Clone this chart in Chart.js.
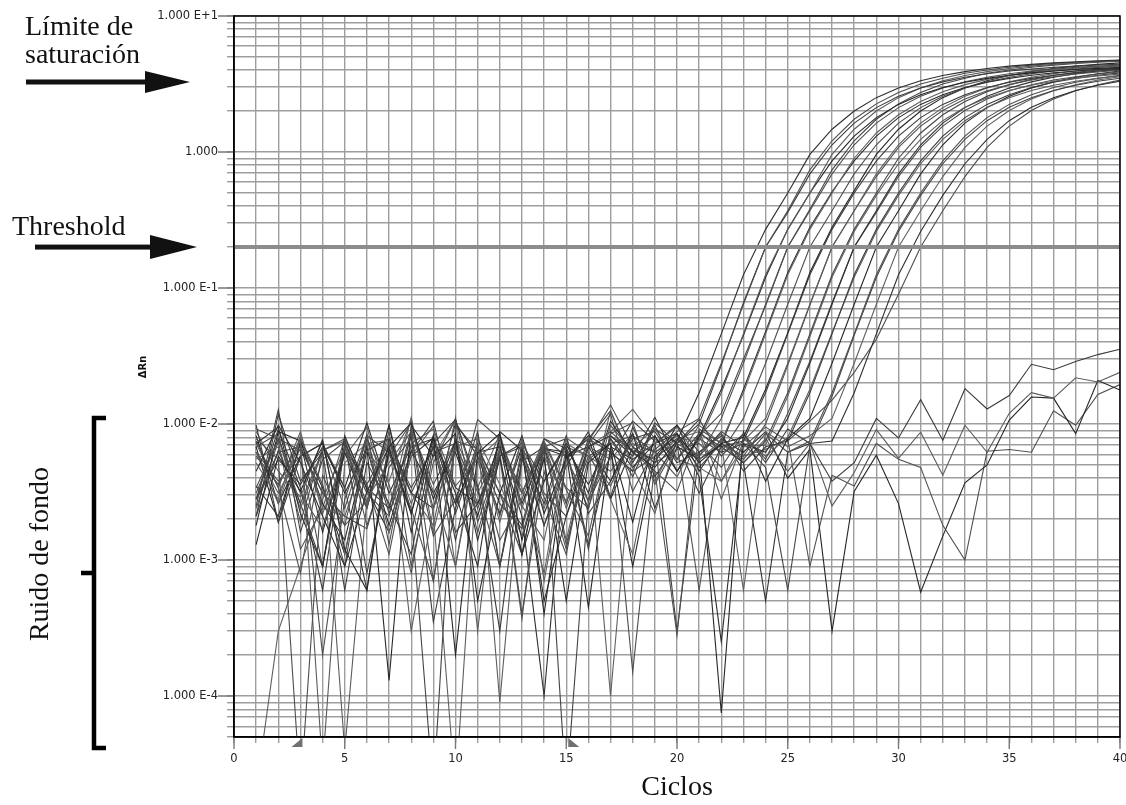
<!DOCTYPE html>
<html lang="es">
<head>
<meta charset="utf-8">
<title>Curvas de amplificación</title>
<script src="https://cdn.jsdelivr.net/npm/chart.js@4.4.1/dist/chart.umd.min.js"></script>
<style>
  html, body { margin: 0; padding: 0; background: #fff; }
  #grafico { display: block; }
</style>
</head>
<body>
<canvas id="grafico" width="1126" height="805"></canvas>
<script>
// Ciclos de PCR (eje X)
const ciclos = [1,2,3,4,5,6,7,8,9,10,11,12,13,14,15,16,17,18,19,20,
                21,22,23,24,25,26,27,28,29,30,31,32,33,34,35,36,37,38,39,40];
const xEtiquetas = [0, 5, 10, 15, 20, 25, 30, 35, 40];

// Eje Y logarítmico: décadas con etiqueta
const yDecadas = [10, 1, 0.1, 0.01, 0.001, 0.0001];
const yEtiquetas = ['1.000 E+1', '1.000', '1.000 E-1', '1.000 E-2', '1.000 E-3', '1.000 E-4'];

const umbral = 0.2;            // línea de threshold
const marcasBaseline = [3, 15]; // inicio y fin de la línea base

// ΔRn por pozo (valores muy pequeños = caen fuera del gráfico)
const pozo01 = [.0045,.0098,.0052,.0021,.0009,.0032,.0068,.0102,.0028,.0075,.0014,.0056,.0011,.0038,.0072,.0031,.0105,.0062,.0048,
  .0075,.017,.046,.125,.27,.5,.96,1.47,2.0,2.51,2.96,3.34,3.65,3.9,4.11,4.28,4.41,4.52,4.61,4.68,4.75];
const pozo02 = [.0078,.0055,.00002,.0042,.0018,.0085,.0013,.0092,.0007,.0068,.0024,.0062,.0004,.0045,.0012,.0071,.0118,.0032,.0065,.0088,
  .011,.028,.076,.2,.37,.74,1.21,1.74,2.26,2.74,3.16,3.49,3.79,4.01,4.2,4.35,4.47,4.57,4.65,4.72];
const pozo03 = [.0021,.0118,.0038,.0062,.0006,.0052,.0026,.0011,.0072,.0108,.0035,.0003,.0058,.0018,.0049,.0088,.0029,.0095,.0041,.0072,
  .01,.027,.078,.2,.36,.69,1.13,1.63,2.12,2.57,2.96,3.28,3.55,3.76,3.94,4.07,4.19,4.28,4.36,4.42];
const pozo04 = [.0062,.0026,.0078,.00003,.0052,.0072,.0016,.0058,.0097,.0009,.0068,.0019,.0078,.0007,.0055,.0027,.0125,.0048,.0022,.0078,
  .0075,.017,.046,.125,.27,.5,.96,1.47,2.0,2.51,2.96,3.34,3.65,3.9,4.11,4.28,4.41,4.52,4.61,4.68];
const pozo05 = [.0013,.0058,.0032,.0075,.0012,.0006,.0066,.0022,.0082,.0002,.0061,.0085,.0014,.0056,.0005,.0052,.0072,.0019,.0082,.0045,
  .008,.018,.045,.12,.27,.5,.86,1.31,1.79,2.24,2.64,2.98,3.26,3.48,3.67,3.82,3.94,4.04,4.12,4.18];
const pozo06 = [.0092,.0078,.0031,.0017,.0068,.0024,.0088,.0009,.0052,.0108,.0019,.0058,.00037,.0072,.0033,.0015,.0085,.0102,.0036,.0072,.0058,
  .011,.028,.076,.2,.37,.69,1.13,1.63,2.12,2.57,2.96,3.28,3.55,3.76,3.94,4.07,4.19,4.28,4.36];
const pozo07 = [.0025,.0128,.0016,.0055,.0074,.0008,.0048,.0079,.0015,.0028,.0088,.0009,.0053,.0068,.00002,.0028,.0078,.0041,.0098,.0045,.0082,
  .012,.03,.074,.2,.38,.74,1.21,1.74,2.26,2.74,3.16,3.49,3.79,4.01,4.2,4.35,4.47,4.57,4.65];
const pozo08 = [.0052,.0028,.0082,.0024,.0021,.0064,.0038,.0108,.0022,.00002,.0056,.0078,.0025,.0014,.0079,.0062,.0028,.0011,.0072,.0095,.0055,
  .0075,.017,.046,.125,.27,.5,.9,1.38,1.88,2.35,2.77,3.13,3.42,3.65,3.85,4.01,4.14,4.24,4.33];
const pozo09 = [.0072,.0095,.0022,.0009,.0082,.0033,.0016,.0058,.0079,.0031,.0009,.0088,.0064,.0005,.0021,.0068,.0038,.0085,.0024,.0068,.0055,
  .007,.018,.048,.13,.28,.51,.86,1.31,1.79,2.24,2.64,2.98,3.26,3.48,3.67,3.82,3.94,4.04,4.12];
const pozo10 = [.0031,.0078,.0064,.0002,.0028,.0082,.0062,.0024,.0007,.0075,.0066,.0021,.0078,.0029,.0011,.0074,.0138,.0068,.0045,.0032,.0088,.0062,
  .011,.028,.076,.2,.37,.69,1.13,1.63,2.12,2.57,2.96,3.28,3.55,3.76,3.94,4.07,4.19,4.28];
const pozo11 = [.0098,.0019,.0058,.0072,.0034,.0006,.0078,.0031,.0068,.0016,.0026,.0058,.0072,.0038,.0068,.0013,.0062,.0045,.0102,.0072,.0031,.0068,
  .0075,.017,.046,.125,.27,.5,.86,1.31,1.79,2.24,2.64,2.98,3.26,3.48,3.67,3.82,3.94,4.04];
const pozo12 = [.0055,.0068,.0024,.0062,.00004,.0028,.0052,.0088,.0032,.0009,.0082,.00009,.0056,.0024,.0072,.0058,.0035,.0082,.0062,.0041,.0085,.0028,.0075,
  .011,.028,.076,.2,.37,.69,1.13,1.63,2.12,2.57,2.96,3.28,3.55,3.76,3.94,4.07,4.19];
const pozo13 = [.0018,.0088,.0075,.0026,.0014,.0068,.00013,.0098,.0058,.0085,.0005,.0031,.0082,.0022,.0056,.0082,.0065,.0009,.0058,.0085,.0052,.0072,
  .008,.018,.047,.13,.28,.52,.96,1.47,2.0,2.51,2.96,3.34,3.65,3.9,4.11,4.28,4.41,4.52];
const pozo14 = [.0075,.0034,.0008,.0064,.0078,.0036,.0011,.0072,.0092,.0035,.0055,.0014,.0028,.0075,.0034,.0024,.0098,.0062,.0045,.00028,.0092,.0072,.0058,
  .01,.027,.075,.2,.37,.66,1.08,1.55,2.02,2.45,2.82,3.12,3.38,3.58,3.75,3.88,3.99];
const pozo15 = [.0028,.0062,.0068,.0031,.0021,.0017,.0062,.0022,.00002,.0098,.0064,.0026,.0017,.0068,.0078,.0027,.0058,.0105,.0075,.0003,.0062,.0082,.0052,
  .0075,.017,.046,.125,.27,.5,.9,1.38,1.88,2.35,2.77,3.13,3.42,3.65,3.85,4.01,4.14];
const pozo16 = [.0088,.0045,.0029,.0078,.0011,.0072,.0076,.0003,.0024,.0068,.0078,.0036,.0015,.0058,.0027,.0072,.0001,.0068,.0092,.0055,.0048,.0038,.0068,
  .007,.016,.044,.12,.26,.48,.82,1.24,1.7,2.13,2.51,2.83,3.1,3.31,3.49,3.63,3.74];
const pozo17 = [.0035,.0021,.0072,.0016,.0062,.0024,.0098,.0016,.0078,.0026,.0062,.0068,.0021,.0001,.0066,.0036,.0078,.0048,.0072,.0085,.0041,.00025,.0072,.0062,
  .011,.028,.076,.2,.37,.69,1.13,1.63,2.12,2.57,2.96,3.28,3.55,3.76,3.94,4.07];
const pozo18 = [.0068,.0085,.0019,.0068,.0024,.0078,.0036,.0008,.0062,.0072,.0016,.0058,.0068,.0031,.0021,.0058,.0072,.00015,.0052,.0065,.0072,.0048,.0085,.0055,
  .012,.029,.078,.2,.36,.66,1.08,1.55,2.02,2.45,2.82,3.12,3.38,3.58,3.75,3.88];
const pozo19 = [.0021,.0064,.0026,.0009,.0072,.0034,.0024,.0082,.00035,.0024,.0072,.0009,.0062,.0026,.0082,.0022,.0038,.0078,.0088,.0052,.0062,.0085,.0045,.0068,
  .0075,.017,.046,.125,.27,.5,.86,1.31,1.79,2.24,2.64,2.98,3.26,3.48,3.67,3.82];
const pozo20 = [.0062,.0031,.0066,.0031,.0018,.0027,.0068,.0031,.0018,.0112,.0003,.0072,.0031,.0072,.0024,.0068,.0055,.0085,.0038,.0078,.0088,.0038,.0078,.0058,
  .008,.018,.047,.12,.26,.48,.82,1.24,1.7,2.13,2.51,2.83,3.1,3.31,3.49,3.63];
const pozo21 = [.0082,.0026,.0058,.0072,.0031,.0066,.0018,.0064,.0031,.0062,.0021,.0078,.0026,.0066,.0062,.00045,.0068,.0055,.0072,.0098,.0062,.000075,.0088,.0038,.0078,
  .011,.028,.076,.2,.37,.69,1.13,1.63,2.12,2.57,2.96,3.28,3.55,3.76,3.94];
const pozo22 = [.0024,.0075,.0012,.0024,.0078,.0018,.0058,.0102,.0024,.0066,.0034,.0009,.0068,.0018,.0055,.0078,.0062,.0045,.0058,.0072,.0006,.0078,.0055,.0085,.0062,
  .0075,.017,.046,.125,.27,.5,.86,1.31,1.79,2.24,2.64,2.98,3.26,3.48,3.67];
const pozo23 = [.0058,.0036,.0078,.0036,.0009,.0078,.0022,.0062,.0105,.0022,.0066,.0031,.0018,.0078,.0066,.0012,.0088,.0062,.0082,.0045,.0078,.0062,.0072,.0048,.0006,
  .007,.016,.045,.12,.26,.48,.82,1.24,1.7,2.13,2.51,2.83,3.1,3.31,3.49];
const pozo24 = [.00002,.0003,.0009,.0028,.0066,.0031,.0078,.0026,.0058,.0108,.0031,.0066,.0034,.0008,.0068,.0058,.0045,.0072,.0062,.0082,.0055,.0072,.0006,.0088,.0068,.0082,
  .011,.028,.076,.2,.37,.66,1.08,1.55,2.02,2.45,2.82,3.12,3.38,3.58];
const pozo25 = [.0028,.0055,.0036,.0068,.0034,.0102,.0031,.0068,.0078,.0034,.0026,.0072,.0011,.0066,.0058,.0068,.0082,.0058,.0112,.0055,.0085,.0068,.0052,.0005,.0062,.0072,
  .0075,.017,.046,.125,.26,.48,.82,1.24,1.7,2.13,2.51,2.83,3.1,3.31];
const pozo26 = [.0062,.0038,.0058,.0009,.0066,.0036,.0072,.0034,.0066,.0026,.0108,.0078,.0031,.0068,.0013,.0055,.0072,.0082,.0062,.0078,.0058,.0088,.0068,.0095,.0075,.0105,
  .015,.024,.042,.09,.2,.37,.66,1.08,1.55,2.02,2.45,2.82,3.12,3.38];
// Pozos sin amplificación
const pozo27 = [.0028,.0092,.0034,.0006,.0068,.0026,.0098,.0022,.0082,.0014,.0068,.0031,.0011,.0066,.0026,.0078,.0125,.0052,.0092,.0072,
  .0108,.0058,.0085,.0052,.0092,.0072,.0038,.0052,.011,.0079,.0151,.0076,.0182,.0129,.0162,.0275,.0251,.0288,.0324,.0355];
const pozo28 = [.0072,.0034,.0088,.0022,.0058,.0095,.0024,.0112,.0016,.0078,.0034,.0085,.0024,.0072,.0014,.0068,.0088,.0128,.0078,.0055,
  .0098,.0072,.0052,.0078,.0045,.0072,.0025,.0044,.0091,.0056,.0087,.0042,.0098,.0062,.012,.017,.0155,.0219,.0204,.024];
const pozo29 = [.0068,.0019,.0075,.0034,.0011,.0064,.0078,.0031,.0024,.0102,.0058,.0022,.0068,.0004,.0058,.0078,.0028,.0068,.0052,.0098,
  .0045,.0078,.0062,.0088,.004,.0065,.0003,.0032,.0059,.0026,.00058,.0015,.0037,.005,.0107,.0158,.0155,.0085,.0209,.0178];
const pozo30 = [.0034,.0078,.0026,.0064,.0075,.0031,.0021,.0092,.0036,.0075,.0026,.0064,.0031,.0078,.0058,.0024,.0082,.0064,.0055,.0078,
  .0048,.0072,.0058,.0065,.0078,.0009,.0042,.0035,.0072,.0055,.0048,.0018,.001,.0063,.0065,.0062,.0125,.0098,.0165,.0195];

const curvas = [pozo01,pozo02,pozo03,pozo04,pozo05,pozo06,pozo07,pozo08,pozo09,pozo10,
  pozo11,pozo12,pozo13,pozo14,pozo15,pozo16,pozo17,pozo18,pozo19,pozo20,
  pozo21,pozo22,pozo23,pozo24,pozo25,pozo26,pozo27,pozo28,pozo29,pozo30];

const colores = ['#2e2e2e', '#4d4d4d', '#3b3b3b', '#5c5c5c', '#262626', '#505050', '#444444', '#606060'];

// Líneas de la grilla: 1..9 por década
const yMin = 5e-5, yMax = 10;
const grillaY = [];
for (let e = -5; e <= 1; e++) {
  for (let m = 1; m <= 9; m++) {
    const v = parseFloat((m * Math.pow(10, e)).toPrecision(3));
    if (v >= yMin * 0.999 && v <= yMax * 1.001) grillaY.push(v);
  }
}
const grillaX = [];
for (let c = 0; c <= 40; c++) grillaX.push(c);

function etiquetaY(v) {
  const i = yDecadas.findIndex(d => Math.abs(d - v) / d < 1e-6);
  return i >= 0 ? yEtiquetas[i] : '';
}

const fuenteEjes = { family: '"DejaVu Sans", Verdana, sans-serif', size: 11.5 };
const fuenteSerif = '"Liberation Serif", "Times New Roman", serif';
const colorGrilla = '#9e9e9e';

const conjuntos = curvas.map((serie, i) => ({
  data: ciclos.map((c, k) => ({ x: c, y: serie[k] })),
  borderColor: colores[i % colores.length],
  borderWidth: 1.1,
  pointRadius: 0,
  tension: 0,
  fill: false
}));
// El umbral va primero para quedar dibujado encima
conjuntos.unshift({
  data: [{ x: 0, y: umbral }, { x: 40, y: umbral }],
  borderColor: '#8c8c8c',
  borderWidth: 4,
  pointRadius: 0
});

function flecha(ctx, x0, x1, y, largoPunta, mitadPunta, grosor) {
  ctx.fillRect(x0, y - grosor / 2, x1 - largoPunta - x0 + 1, grosor);
  ctx.beginPath();
  ctx.moveTo(x1 - largoPunta, y - mitadPunta);
  ctx.lineTo(x1, y);
  ctx.lineTo(x1 - largoPunta, y + mitadPunta);
  ctx.closePath();
  ctx.fill();
}

const anotaciones = {
  id: 'anotaciones',
  afterDraw(chart) {
    const { ctx, chartArea: a } = chart;
    const ejeX = chart.scales.x, ejeY = chart.scales.y;
    ctx.save();

    // marcas largas en las divisiones principales
    ctx.strokeStyle = '#777';
    ctx.lineWidth = 1.4;
    ctx.beginPath();
    yDecadas.forEach(d => {
      const y = ejeY.getPixelForValue(d);
      ctx.moveTo(a.left - 16, y);
      ctx.lineTo(a.left, y);
    });
    xEtiquetas.forEach(c => {
      const x = ejeX.getPixelForValue(c);
      ctx.moveTo(x, a.bottom);
      ctx.lineTo(x, a.bottom + 12);
    });
    ctx.stroke();

    // marco negro del área de trazado
    ctx.strokeStyle = '#000';
    ctx.lineWidth = 1.5;
    ctx.strokeRect(a.left, a.top, a.right - a.left, a.bottom - a.top);

    // marcas de la línea base bajo el eje X
    ctx.fillStyle = '#707070';
    marcasBaseline.forEach((c, i) => {
      const x = ejeX.getPixelForValue(c);
      ctx.beginPath();
      if (i === 0) {
        ctx.moveTo(x + 2, a.bottom + 1);
        ctx.lineTo(x + 2, a.bottom + 10);
        ctx.lineTo(x - 9, a.bottom + 10);
      } else {
        ctx.moveTo(x + 2, a.bottom + 1);
        ctx.lineTo(x + 2, a.bottom + 10);
        ctx.lineTo(x + 13, a.bottom + 10);
      }
      ctx.closePath();
      ctx.fill();
    });

    // textos y flechas
    ctx.fillStyle = '#111';
    ctx.font = '28px ' + fuenteSerif;
    ctx.textAlign = 'left';
    ctx.textBaseline = 'alphabetic';
    ctx.fillText('Límite de', 25, 35);
    ctx.fillText('saturación', 25, 63);
    ctx.fillText('Threshold', 12, 235);
    flecha(ctx, 26, 190, 82, 45, 11, 5);
    flecha(ctx, 35, 197, ejeY.getPixelForValue(umbral), 47, 12, 5);

    // corchete del ruido de fondo
    ctx.strokeStyle = '#000';
    ctx.lineWidth = 4.5;
    ctx.lineCap = 'butt';
    ctx.beginPath();
    ctx.moveTo(106, 418);
    ctx.lineTo(94, 418);
    ctx.lineTo(94, 748);
    ctx.lineTo(106, 748);
    ctx.moveTo(94, 573);
    ctx.lineTo(81, 573);
    ctx.stroke();

    ctx.save();
    ctx.translate(48, 554);
    ctx.rotate(-Math.PI / 2);
    ctx.textAlign = 'center';
    ctx.fillText('Ruido de fondo', 0, 0);
    ctx.restore();

    // título del eje Y
    ctx.save();
    ctx.translate(146, 367);
    ctx.rotate(-Math.PI / 2);
    ctx.textAlign = 'center';
    ctx.font = 'bold 10px "DejaVu Sans", Verdana, sans-serif';
    ctx.fillText('ΔRn', 0, 0);
    ctx.restore();

    ctx.restore();
  }
};

new Chart(document.getElementById('grafico'), {
  type: 'line',
  data: { datasets: conjuntos },
  options: {
    responsive: false,
    animation: false,
    devicePixelRatio: 1,
    events: [],
    layout: { padding: { top: 16, right: 0, bottom: 0, left: 0 } },
    plugins: { legend: { display: false }, tooltip: { enabled: false } },
    scales: {
      x: {
        type: 'linear',
        min: 0,
        max: 40,
        afterBuildTicks: eje => { eje.ticks = grillaX.map(v => ({ value: v })); },
        afterFit: eje => { eje.height = 68; eje.paddingRight = 6; },
        ticks: {
          autoSkip: false,
          maxRotation: 0,
          padding: 9,
          font: fuenteEjes,
          color: '#222',
          callback: v => (xEtiquetas.includes(v) ? String(v) : '')
        },
        grid: { color: colorGrilla, lineWidth: 1.4, tickLength: 6 },
        border: { color: '#000', width: 1.5 },
        title: {
          display: true,
          text: 'Ciclos',
          color: '#111',
          font: { family: fuenteSerif, size: 28 },
          padding: { top: 0, bottom: 1 }
        }
      },
      y: {
        type: 'logarithmic',
        min: yMin,
        max: yMax,
        afterBuildTicks: eje => { eje.ticks = grillaY.map(v => ({ value: v })); },
        afterFit: eje => { eje.width = 234; },
        ticks: {
          autoSkip: false,
          padding: 9,
          font: fuenteEjes,
          color: '#222',
          callback: v => etiquetaY(v)
        },
        grid: { color: colorGrilla, lineWidth: 1.4, tickLength: 7 },
        border: { color: '#000', width: 1.5 }
      }
    }
  },
  plugins: [anotaciones]
});
</script>
</body>
</html>
